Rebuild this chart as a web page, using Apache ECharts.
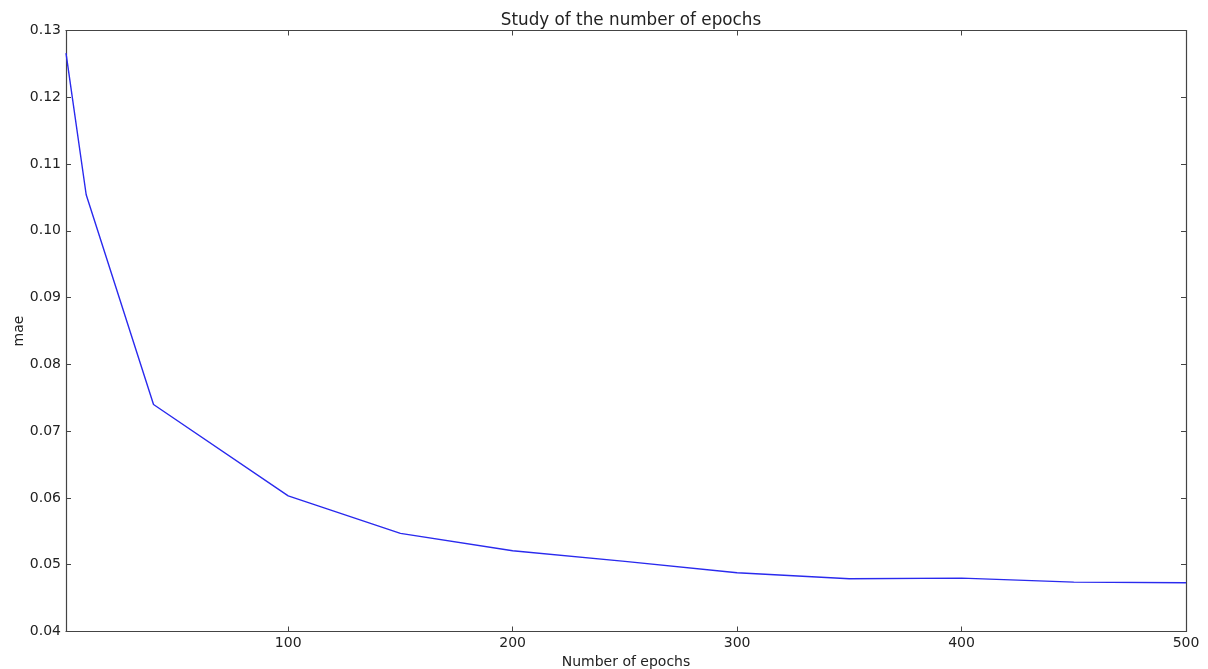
<!DOCTYPE html>
<html>
<head>
<meta charset="utf-8">
<script src="https://cdn.jsdelivr.net/npm/echarts@6/dist/echarts.min.js"></script>
<style>
  html, body { margin: 0; padding: 0; background: #fff; }
  #chart { width: 1208px; height: 669px; }
</style>
</head>
<body>
<div id="chart"></div>
<script>
// Training runs: number of epochs vs. resulting mean absolute error
const epochs = [1, 10, 40, 100, 150, 200, 250, 300, 350, 400, 450, 500];
const mae = [0.1266, 0.1054, 0.0740, 0.0603, 0.0547, 0.0521, 0.0505, 0.0488, 0.0479, 0.0480, 0.0474, 0.0473];
const xTicks = [100, 200, 300, 400, 500];
const yTicks = [0.04, 0.05, 0.06, 0.07, 0.08, 0.09, 0.10, 0.11, 0.12, 0.13];

const FONT = 'DejaVu Sans';
const INK = '#222';
const SPINE = '#444';

const points = epochs.map((e, i) => [e, mae[i]]);

function xAxisDef(pos, labels) {
  return {
    type: 'value',
    position: pos,
    min: 1,
    max: 500,
    name: labels ? 'Number of epochs' : '',
    nameLocation: 'middle',
    nameGap: 22,
    nameTextStyle: { fontFamily: FONT, fontSize: 14, color: INK },
    axisLine: { show: true, lineStyle: { color: SPINE, width: 1.2 } },
    axisTick: { show: true, inside: true, length: 5, customValues: xTicks, lineStyle: { color: SPINE } },
    axisLabel: { show: labels, customValues: xTicks, margin: 5, fontFamily: FONT, fontSize: 14, color: INK },
    splitLine: { show: false }
  };
}

function yAxisDef(pos, labels) {
  return {
    type: 'value',
    position: pos,
    min: 0.04,
    max: 0.13,
    name: labels ? 'mae' : '',
    nameLocation: 'middle',
    nameRotate: 90,
    nameGap: 40,
    nameMoveOverlap: false,
    nameTextStyle: { fontFamily: FONT, fontSize: 14, color: INK },
    axisLine: { show: true, lineStyle: { color: SPINE, width: 1.2 } },
    axisTick: { show: true, inside: true, length: 5, customValues: yTicks, lineStyle: { color: SPINE } },
    axisLabel: {
      show: labels, customValues: yTicks, margin: 5,
      fontFamily: FONT, fontSize: 14, color: INK,
      formatter: v => v.toFixed(2)
    },
    splitLine: { show: false }
  };
}

const chart = echarts.init(document.getElementById('chart'), null, { renderer: 'canvas' });
chart.setOption({
  backgroundColor: '#fff',
  animation: false,
  title: {
    text: 'Study of the number of epochs',
    left: 626,
    textAlign: 'center',
    top: 7,
    textStyle: { fontFamily: FONT, fontSize: 16.8, fontWeight: 'normal', color: INK }
  },
  grid: { left: 66, top: 30.5, right: 22, bottom: 37.5, containLabel: false, outerBoundsMode: 'none' },
  xAxis: [xAxisDef('bottom', true), xAxisDef('top', false)],
  yAxis: [yAxisDef('left', true), yAxisDef('right', false)],
  series: [{
    type: 'line',
    data: points,
    xAxisIndex: 0,
    yAxisIndex: 0,
    showSymbol: false,
    lineStyle: { color: '#2a2aee', width: 1.4 },
    clip: true
  }]
});
</script>
</body>
</html>
